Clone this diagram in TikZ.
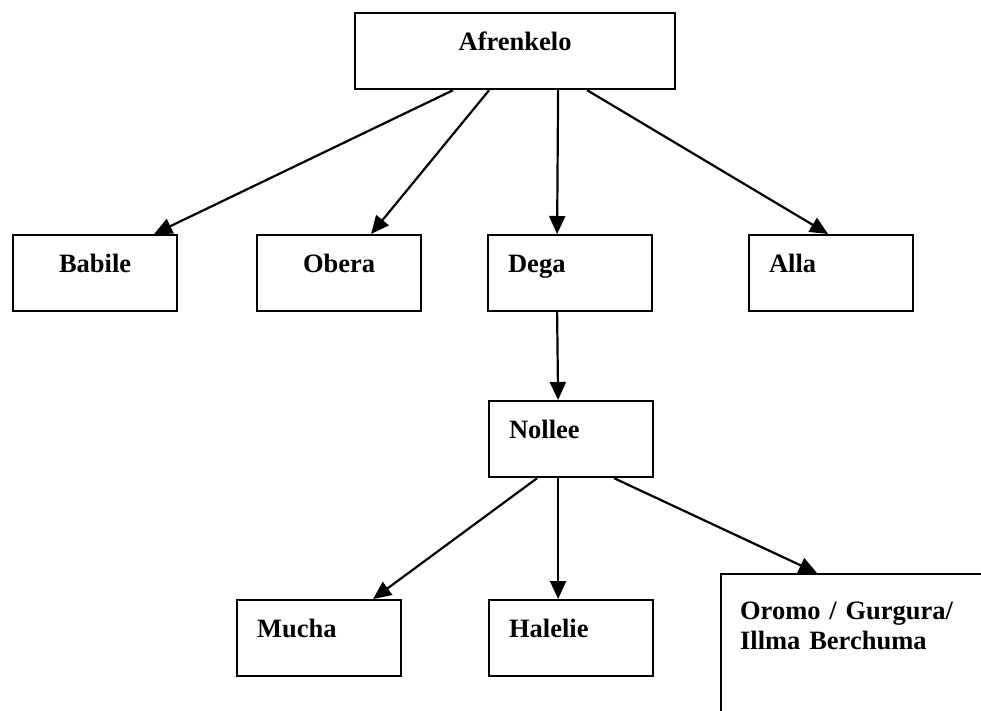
\documentclass[tikz,border=0pt]{standalone}
\usepackage{fontspec}
\setmainfont{Liberation Serif}
\usetikzlibrary{arrows.meta}

\begin{document}
\begin{tikzpicture}[x=1pt, y=-1pt,
                    box/.style={draw, line width=2.2pt, anchor=north west, inner ysep=0pt,
                                text height=37pt, text depth=39pt,
                                font=\fontsize{26.5}{30}\selectfont\bfseries},
                    midbox/.style={box, inner xsep=0pt, text width=164pt, align=center},
                    leftbox/.style={box, inner xsep=20pt, text width=124pt, align=left},
                    arr/.style={-{Triangle[length=18pt, width=16pt]}, line width=2.2pt}]
                    \useasboundingbox (0,0) rectangle (981,711);
                    \clip (0,0) rectangle (981,711);

                    \node[midbox, text width=320pt] (afr) at (354,12) {Afrenkelo};

                    \node[midbox] (bab) at (12,234) {Babile};
                    \node[midbox] (obe) at (256,234) {Obera};
                    \node[leftbox] (dega) at (487,234) {Dega};
                    \node[leftbox] (alla) at (748,234) {Alla};

                    \node[leftbox] (noll) at (488,400) {Nollee};

                    \node[leftbox] (much) at (236,599) {Mucha};
                    \node[leftbox] (hal) at (488,599) {Halelie};
                    \node[box, inner xsep=19pt, text width=300pt, align=left,
                          text height=45pt, text depth=120pt] (oro) at (720,573)
                          {Oromo / Gurgura/\\Illma Berchuma};

                    \draw[arr] ([xshift=-62pt]afr.south) -- ([xshift=59pt]bab.north);
                    \draw[arr] ([xshift=-26pt]afr.south) -- ([xshift=32pt]obe.north);
                    \draw[arr] ([xshift=43pt]afr.south) -- ([xshift=-13pt]dega.north);
                    \draw[arr] ([xshift=72pt]afr.south) -- ([xshift=-3pt]alla.north);

                    \draw[arr] ([xshift=-13pt]dega.south) -- ([xshift=-13pt]noll.north);

                    \draw[arr] ([xshift=-34pt]noll.south) -- ([xshift=54pt]much.north);
                    \draw[arr] ([xshift=-13pt]noll.south) -- ([xshift=-13pt]hal.north);
                    \draw[arr] ([xshift=43pt]noll.south) -- ([xshift=97pt]oro.north west);

                \end{tikzpicture}
\end{document}
